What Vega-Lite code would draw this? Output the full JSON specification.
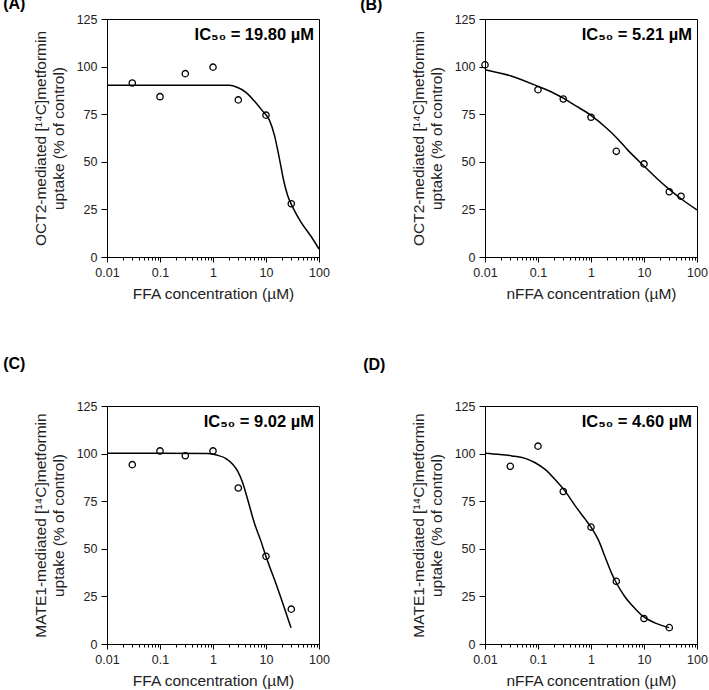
{
  "$schema": "https://vega.github.io/schema/vega-lite/v6.json",
  "background": "white",
  "padding": {"left": 2, "top": -5, "right": 0, "bottom": 0},
  "bounds": "flush",
  "columns": 2,
  "spacing": {"row": 149, "column": 166},
  "config": {
    "font": "Liberation Sans",
    "view": {"stroke": "#000", "strokeWidth": 1},
    "axis": {"grid": false, "domainColor": "#000", "tickColor": "#000", "labelColor": "#222", "titleColor": "#222", "labelFontSize": 12.5, "titleFontSize": 15.5, "titleFontWeight": "normal", "labelFont": "Liberation Sans", "titleFont": "Liberation Sans"},
    "axisY": {"tickSize": 6, "labelPadding": 4, "titlePadding": 10, "titleLineHeight": 18},
    "axisX": {"labelPadding": 4, "titlePadding": 8, "labelFlush": false, "labelOverlap": false},
    "title": {"font": "Liberation Sans", "fontSize": 16, "fontWeight": "bold", "color": "#000", "anchor": "start", "frame": "bounds", "baseline": "alphabetic"}
  },
  "datasets": {
    "A_obs": [{"conc": 0.03, "uptake": 91.4}, {"conc": 0.1, "uptake": 84.2}, {"conc": 0.3, "uptake": 96.3}, {"conc": 1, "uptake": 99.7}, {"conc": 3, "uptake": 82.5}, {"conc": 10, "uptake": 74.5}, {"conc": 30, "uptake": 28.0}],
    "A_fit": [{"conc": 0.01, "uptake": 90.2}, {"conc": 0.1, "uptake": 90.2}, {"conc": 1, "uptake": 90.2}, {"conc": 2.03, "uptake": 90.2}, {"conc": 2.92, "uptake": 89.0}, {"conc": 4.19, "uptake": 86.5}, {"conc": 6.03, "uptake": 81.9}, {"conc": 8.65, "uptake": 76.6}, {"conc": 11.6, "uptake": 71.9}, {"conc": 14.4, "uptake": 64.0}, {"conc": 17.9, "uptake": 51.7}, {"conc": 21.5, "uptake": 40.3}, {"conc": 25.6, "uptake": 32.3}, {"conc": 31.9, "uptake": 26.2}, {"conc": 45.7, "uptake": 18.3}, {"conc": 70.6, "uptake": 10.9}, {"conc": 100, "uptake": 4.2}],
    "B_obs": [{"conc": 0.01, "uptake": 100.9}, {"conc": 0.1, "uptake": 87.9}, {"conc": 0.3, "uptake": 83.0}, {"conc": 1, "uptake": 73.4}, {"conc": 3, "uptake": 55.5}, {"conc": 10, "uptake": 48.9}, {"conc": 30, "uptake": 34.3}, {"conc": 50, "uptake": 31.9}],
    "B_fit": [{"conc": 0.01, "uptake": 98.4}, {"conc": 0.03, "uptake": 95.2}, {"conc": 0.1, "uptake": 89.6}, {"conc": 0.2, "uptake": 86.0}, {"conc": 0.3, "uptake": 83.4}, {"conc": 0.5, "uptake": 79.6}, {"conc": 1, "uptake": 74.4}, {"conc": 2, "uptake": 67.5}, {"conc": 3, "uptake": 62.8}, {"conc": 5, "uptake": 56.0}, {"conc": 10, "uptake": 47.8}, {"conc": 20, "uptake": 39.8}, {"conc": 30, "uptake": 35.5}, {"conc": 50, "uptake": 30.6}, {"conc": 100, "uptake": 24.7}],
    "C_obs": [{"conc": 0.03, "uptake": 94.2}, {"conc": 0.1, "uptake": 101.4}, {"conc": 0.3, "uptake": 98.9}, {"conc": 1, "uptake": 101.4}, {"conc": 3, "uptake": 81.9}, {"conc": 10, "uptake": 46.1}, {"conc": 30, "uptake": 18.3}],
    "C_fit": [{"conc": 0.01, "uptake": 100.2}, {"conc": 0.1, "uptake": 100.2}, {"conc": 0.79, "uptake": 100.0}, {"conc": 1.22, "uptake": 99.1}, {"conc": 1.76, "uptake": 97.4}, {"conc": 2.35, "uptake": 94.4}, {"conc": 2.92, "uptake": 90.8}, {"conc": 3.63, "uptake": 84.7}, {"conc": 4.51, "uptake": 75.9}, {"conc": 6.03, "uptake": 63.6}, {"conc": 8.05, "uptake": 53.9}, {"conc": 10, "uptake": 46.0}, {"conc": 16.6, "uptake": 29.2}, {"conc": 29.7, "uptake": 8.5}],
    "D_obs": [{"conc": 0.03, "uptake": 93.3}, {"conc": 0.1, "uptake": 103.9}, {"conc": 0.3, "uptake": 80.1}, {"conc": 1, "uptake": 61.4}, {"conc": 3, "uptake": 32.9}, {"conc": 10, "uptake": 13.4}, {"conc": 30, "uptake": 8.6}],
    "D_fit": [{"conc": 0.01, "uptake": 100.2}, {"conc": 0.0181, "uptake": 99.6}, {"conc": 0.0322, "uptake": 98.8}, {"conc": 0.0574, "uptake": 97.5}, {"conc": 0.0885, "uptake": 95.2}, {"conc": 0.136, "uptake": 91.7}, {"conc": 0.21, "uptake": 86.4}, {"conc": 0.324, "uptake": 80.3}, {"conc": 0.5, "uptake": 72.7}, {"conc": 0.77, "uptake": 65.7}, {"conc": 1.0, "uptake": 61.4}, {"conc": 1.37, "uptake": 54.8}, {"conc": 1.83, "uptake": 46.0}, {"conc": 2.45, "uptake": 37.1}, {"conc": 3.04, "uptake": 31.9}, {"conc": 4.36, "uptake": 24.8}, {"conc": 6.72, "uptake": 18.7}, {"conc": 9.5, "uptake": 14.6}, {"conc": 16.0, "uptake": 11.1}, {"conc": 29.7, "uptake": 8.6}],
    "labels": [{"panel": "A", "label": "IC₅₀ = 19.80 µM"}, {"panel": "B", "label": "IC₅₀ = 5.21 µM"}, {"panel": "C", "label": "IC₅₀ = 9.02 µM"}, {"panel": "D", "label": "IC₅₀ = 4.60 µM"}]
  },
  "concat": [
    {
      "width": 212, "height": 238,
      "title": {"text": "(A)", "dx": -30, "offset": 1},
      "layer": [
        {"data": {"name": "A_fit"}, "mark": {"type": "line", "color": "#000", "strokeWidth": 1.5, "interpolate": "monotone"},
          "encoding": {
            "x": {"field": "conc", "type": "quantitative", "title": "FFA concentration (µM)", "scale": {"type": "log", "domain": [0.01, 100]},
              "axis": {"values": [0.01,0.02,0.03,0.04,0.05,0.06,0.07,0.08,0.09,0.1,0.2,0.3,0.4,0.5,0.6,0.7,0.8,0.9,1,2,3,4,5,6,7,8,9,10,20,30,40,50,60,70,80,90,100],
                "labelExpr": "abs(log(datum.value)/LN10 - round(log(datum.value)/LN10)) < 0.001 ? format(datum.value, '~g') : ''",
                "tickSize": {"condition": {"test": "abs(log(datum.value)/LN10 - round(log(datum.value)/LN10)) < 0.001", "value": 5}, "value": 3}}},
            "y": {"field": "uptake", "type": "quantitative", "title": ["OCT2-mediated [¹⁴C]metformin", "uptake (% of control)"], "scale": {"domain": [0, 125], "nice": false}, "axis": {"values": [0, 25, 50, 75, 100, 125]}}
          }},
        {"data": {"name": "A_obs"}, "mark": {"type": "point", "shape": "circle", "filled": false, "color": "#000", "size": 40, "strokeWidth": 1.3, "opacity": 1},
          "encoding": {
            "x": {"field": "conc", "type": "quantitative", "title": "FFA concentration (µM)"},
            "y": {"field": "uptake", "type": "quantitative", "title": ["OCT2-mediated [¹⁴C]metformin", "uptake (% of control)"]}
          }},
        {"data": {"name": "labels"}, "transform": [{"filter": "datum.panel === 'A'"}], "mark": {"type": "text", "align": "right", "baseline": "middle", "dx": -5, "dy": 16, "fontSize": 16.5, "fontWeight": "bold", "color": "#000"},
          "encoding": {"x": {"datum": 100, "type": "quantitative", "title": "FFA concentration (µM)"}, "y": {"datum": 125, "type": "quantitative", "title": ["OCT2-mediated [¹⁴C]metformin", "uptake (% of control)"]}, "text": {"field": "label", "type": "nominal"}}}
      ]
    },
    {
      "width": 212, "height": 238,
      "title": {"text": "(B)", "dx": -51, "offset": 0},
      "layer": [
        {"data": {"name": "B_fit"}, "mark": {"type": "line", "color": "#000", "strokeWidth": 1.5, "interpolate": "monotone"},
          "encoding": {
            "x": {"field": "conc", "type": "quantitative", "title": "nFFA concentration (µM)", "scale": {"type": "log", "domain": [0.01, 100]},
              "axis": {"values": [0.01,0.02,0.03,0.04,0.05,0.06,0.07,0.08,0.09,0.1,0.2,0.3,0.4,0.5,0.6,0.7,0.8,0.9,1,2,3,4,5,6,7,8,9,10,20,30,40,50,60,70,80,90,100],
                "labelExpr": "abs(log(datum.value)/LN10 - round(log(datum.value)/LN10)) < 0.001 ? format(datum.value, '~g') : ''",
                "tickSize": {"condition": {"test": "abs(log(datum.value)/LN10 - round(log(datum.value)/LN10)) < 0.001", "value": 5}, "value": 3}}},
            "y": {"field": "uptake", "type": "quantitative", "title": ["OCT2-mediated [¹⁴C]metformin", "uptake (% of control)"], "scale": {"domain": [0, 125], "nice": false}, "axis": {"values": [0, 25, 50, 75, 100, 125]}}
          }},
        {"data": {"name": "B_obs"}, "mark": {"type": "point", "shape": "circle", "filled": false, "color": "#000", "size": 40, "strokeWidth": 1.3, "opacity": 1},
          "encoding": {
            "x": {"field": "conc", "type": "quantitative", "title": "nFFA concentration (µM)"},
            "y": {"field": "uptake", "type": "quantitative", "title": ["OCT2-mediated [¹⁴C]metformin", "uptake (% of control)"]}
          }},
        {"data": {"name": "labels"}, "transform": [{"filter": "datum.panel === 'B'"}], "mark": {"type": "text", "align": "right", "baseline": "middle", "dx": -5, "dy": 16, "fontSize": 16.5, "fontWeight": "bold", "color": "#000"},
          "encoding": {"x": {"datum": 100, "type": "quantitative", "title": "nFFA concentration (µM)"}, "y": {"datum": 125, "type": "quantitative", "title": ["OCT2-mediated [¹⁴C]metformin", "uptake (% of control)"]}, "text": {"field": "label", "type": "nominal"}}}
      ]
    },
    {
      "width": 212, "height": 238,
      "title": {"text": "(C)", "dx": -30, "offset": 28},
      "layer": [
        {"data": {"name": "C_fit"}, "mark": {"type": "line", "color": "#000", "strokeWidth": 1.5, "interpolate": "monotone"},
          "encoding": {
            "x": {"field": "conc", "type": "quantitative", "title": "FFA concentration (µM)", "scale": {"type": "log", "domain": [0.01, 100]},
              "axis": {"values": [0.01,0.02,0.03,0.04,0.05,0.06,0.07,0.08,0.09,0.1,0.2,0.3,0.4,0.5,0.6,0.7,0.8,0.9,1,2,3,4,5,6,7,8,9,10,20,30,40,50,60,70,80,90,100],
                "labelExpr": "abs(log(datum.value)/LN10 - round(log(datum.value)/LN10)) < 0.001 ? format(datum.value, '~g') : ''",
                "tickSize": {"condition": {"test": "abs(log(datum.value)/LN10 - round(log(datum.value)/LN10)) < 0.001", "value": 5}, "value": 3}}},
            "y": {"field": "uptake", "type": "quantitative", "title": ["MATE1-mediated [¹⁴C]metformin", "uptake (% of control)"], "scale": {"domain": [0, 125], "nice": false}, "axis": {"values": [0, 25, 50, 75, 100, 125]}}
          }},
        {"data": {"name": "C_obs"}, "mark": {"type": "point", "shape": "circle", "filled": false, "color": "#000", "size": 40, "strokeWidth": 1.3, "opacity": 1},
          "encoding": {
            "x": {"field": "conc", "type": "quantitative", "title": "FFA concentration (µM)"},
            "y": {"field": "uptake", "type": "quantitative", "title": ["MATE1-mediated [¹⁴C]metformin", "uptake (% of control)"]}
          }},
        {"data": {"name": "labels"}, "transform": [{"filter": "datum.panel === 'C'"}], "mark": {"type": "text", "align": "right", "baseline": "middle", "dx": -5, "dy": 16, "fontSize": 16.5, "fontWeight": "bold", "color": "#000"},
          "encoding": {"x": {"datum": 100, "type": "quantitative", "title": "FFA concentration (µM)"}, "y": {"datum": 125, "type": "quantitative", "title": ["MATE1-mediated [¹⁴C]metformin", "uptake (% of control)"]}, "text": {"field": "label", "type": "nominal"}}}
      ]
    },
    {
      "width": 212, "height": 238,
      "title": {"text": "(D)", "dx": -48, "offset": 27},
      "layer": [
        {"data": {"name": "D_fit"}, "mark": {"type": "line", "color": "#000", "strokeWidth": 1.5, "interpolate": "monotone"},
          "encoding": {
            "x": {"field": "conc", "type": "quantitative", "title": "nFFA concentration (µM)", "scale": {"type": "log", "domain": [0.01, 100]},
              "axis": {"values": [0.01,0.02,0.03,0.04,0.05,0.06,0.07,0.08,0.09,0.1,0.2,0.3,0.4,0.5,0.6,0.7,0.8,0.9,1,2,3,4,5,6,7,8,9,10,20,30,40,50,60,70,80,90,100],
                "labelExpr": "abs(log(datum.value)/LN10 - round(log(datum.value)/LN10)) < 0.001 ? format(datum.value, '~g') : ''",
                "tickSize": {"condition": {"test": "abs(log(datum.value)/LN10 - round(log(datum.value)/LN10)) < 0.001", "value": 5}, "value": 3}}},
            "y": {"field": "uptake", "type": "quantitative", "title": ["MATE1-mediated [¹⁴C]metformin", "uptake (% of control)"], "scale": {"domain": [0, 125], "nice": false}, "axis": {"values": [0, 25, 50, 75, 100, 125]}}
          }},
        {"data": {"name": "D_obs"}, "mark": {"type": "point", "shape": "circle", "filled": false, "color": "#000", "size": 40, "strokeWidth": 1.3, "opacity": 1},
          "encoding": {
            "x": {"field": "conc", "type": "quantitative", "title": "nFFA concentration (µM)"},
            "y": {"field": "uptake", "type": "quantitative", "title": ["MATE1-mediated [¹⁴C]metformin", "uptake (% of control)"]}
          }},
        {"data": {"name": "labels"}, "transform": [{"filter": "datum.panel === 'D'"}], "mark": {"type": "text", "align": "right", "baseline": "middle", "dx": -5, "dy": 16, "fontSize": 16.5, "fontWeight": "bold", "color": "#000"},
          "encoding": {"x": {"datum": 100, "type": "quantitative", "title": "nFFA concentration (µM)"}, "y": {"datum": 125, "type": "quantitative", "title": ["MATE1-mediated [¹⁴C]metformin", "uptake (% of control)"]}, "text": {"field": "label", "type": "nominal"}}}
      ]
    }
  ]
}
